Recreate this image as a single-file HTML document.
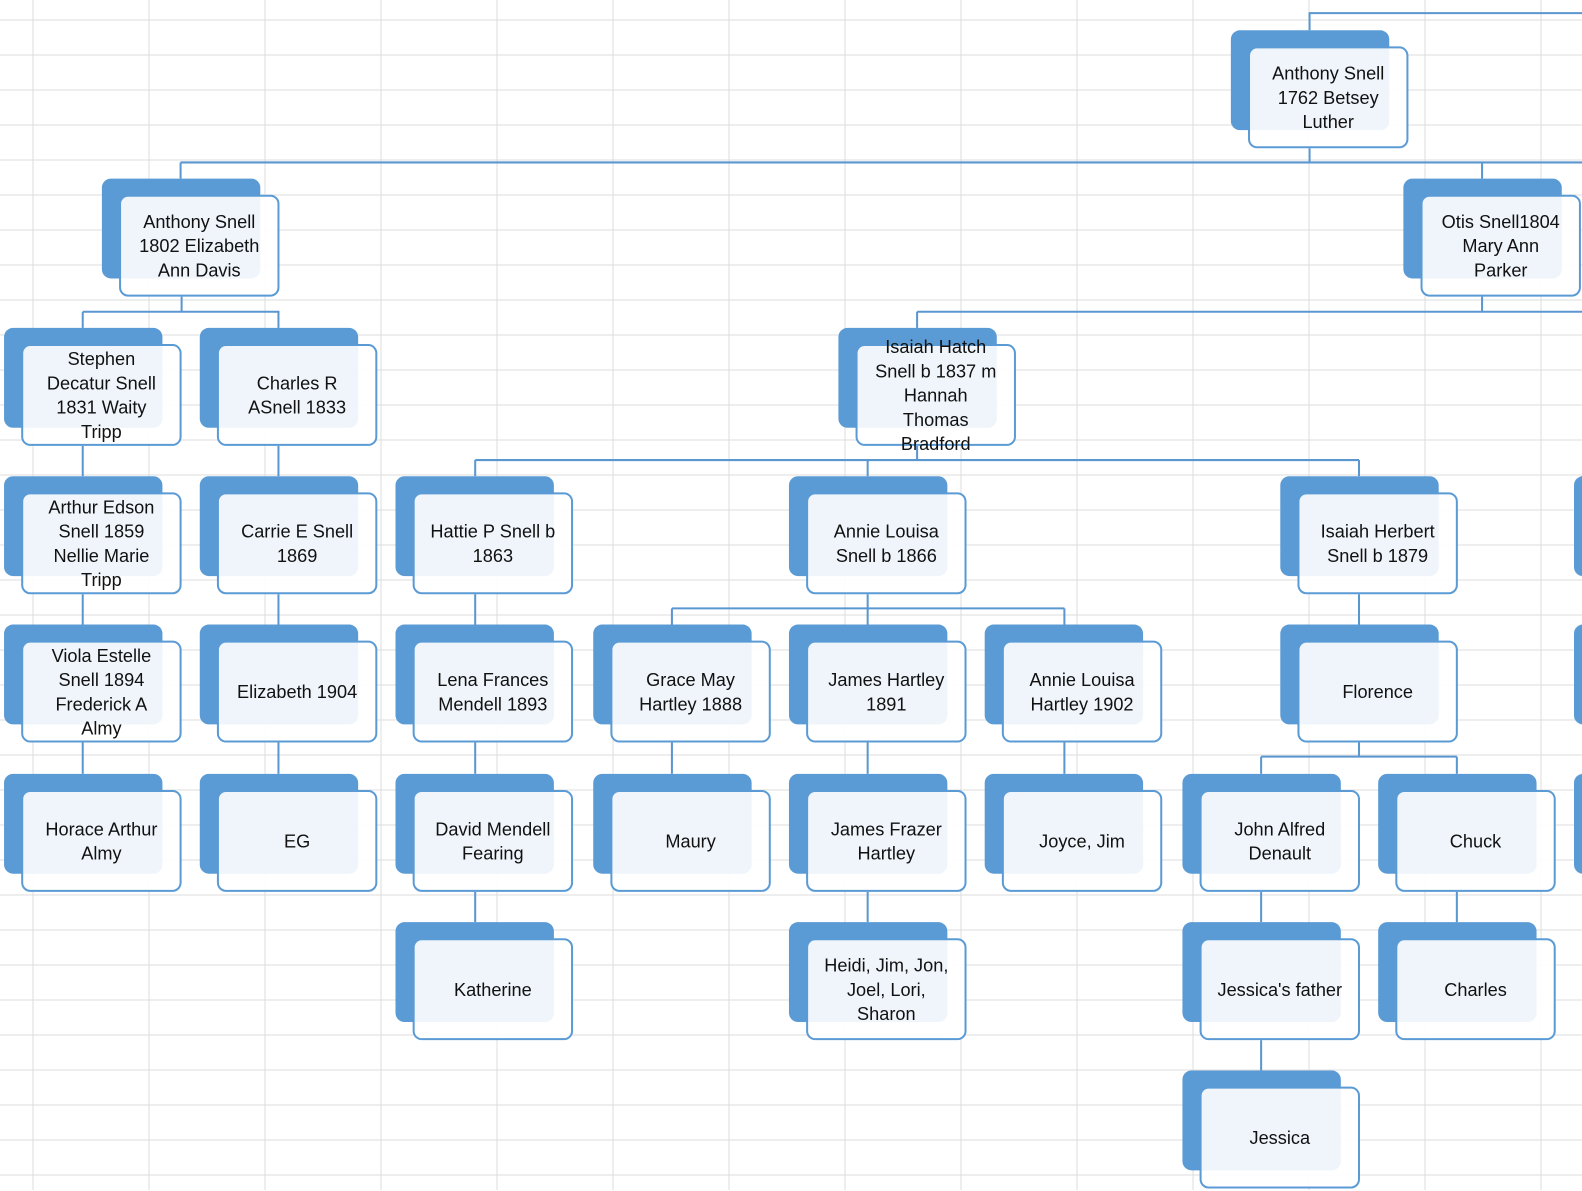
<!DOCTYPE html>
<html><head><meta charset="utf-8"><style>
body{margin:0;width:1582px;height:1190px;overflow:hidden;background:#fff;position:relative;font-family:"Liberation Sans",sans-serif}
svg{position:absolute;left:0;top:0}
#w{position:absolute;left:0;top:0;width:1570px;height:1180px;transform:scale(1.0089);transform-origin:0 0}
.b{position:absolute;width:157px;height:99px;background:#5B9BD5;border-radius:9px}
.f{position:absolute;width:155px;height:97px;border:2px solid #5B9BD5;border-radius:9px;background:rgba(255,255,255,0.9);display:flex;align-items:center;justify-content:center;text-align:center;font-size:18px;line-height:24px;color:#111}
</style></head><body>
<svg width="1582" height="1190">
<g stroke="#dcdcdc" stroke-width="1">
<line x1="33" y1="0" x2="33" y2="1190"/><line x1="149" y1="0" x2="149" y2="1190"/><line x1="265" y1="0" x2="265" y2="1190"/><line x1="381" y1="0" x2="381" y2="1190"/><line x1="497" y1="0" x2="497" y2="1190"/><line x1="613" y1="0" x2="613" y2="1190"/><line x1="729" y1="0" x2="729" y2="1190"/><line x1="845" y1="0" x2="845" y2="1190"/><line x1="961" y1="0" x2="961" y2="1190"/><line x1="1077" y1="0" x2="1077" y2="1190"/><line x1="1193" y1="0" x2="1193" y2="1190"/><line x1="1309" y1="0" x2="1309" y2="1190"/><line x1="1425" y1="0" x2="1425" y2="1190"/><line x1="1541" y1="0" x2="1541" y2="1190"/>
<line x1="0" y1="20" x2="1582" y2="20"/><line x1="0" y1="55" x2="1582" y2="55"/><line x1="0" y1="90" x2="1582" y2="90"/><line x1="0" y1="125" x2="1582" y2="125"/><line x1="0" y1="160" x2="1582" y2="160"/><line x1="0" y1="195" x2="1582" y2="195"/><line x1="0" y1="230" x2="1582" y2="230"/><line x1="0" y1="265" x2="1582" y2="265"/><line x1="0" y1="300" x2="1582" y2="300"/><line x1="0" y1="335" x2="1582" y2="335"/><line x1="0" y1="370" x2="1582" y2="370"/><line x1="0" y1="405" x2="1582" y2="405"/><line x1="0" y1="440" x2="1582" y2="440"/><line x1="0" y1="475" x2="1582" y2="475"/><line x1="0" y1="510" x2="1582" y2="510"/><line x1="0" y1="545" x2="1582" y2="545"/><line x1="0" y1="580" x2="1582" y2="580"/><line x1="0" y1="615" x2="1582" y2="615"/><line x1="0" y1="650" x2="1582" y2="650"/><line x1="0" y1="685" x2="1582" y2="685"/><line x1="0" y1="720" x2="1582" y2="720"/><line x1="0" y1="755" x2="1582" y2="755"/><line x1="0" y1="790" x2="1582" y2="790"/><line x1="0" y1="825" x2="1582" y2="825"/><line x1="0" y1="860" x2="1582" y2="860"/><line x1="0" y1="895" x2="1582" y2="895"/><line x1="0" y1="930" x2="1582" y2="930"/><line x1="0" y1="965" x2="1582" y2="965"/><line x1="0" y1="1000" x2="1582" y2="1000"/><line x1="0" y1="1035" x2="1582" y2="1035"/><line x1="0" y1="1070" x2="1582" y2="1070"/><line x1="0" y1="1105" x2="1582" y2="1105"/><line x1="0" y1="1140" x2="1582" y2="1140"/><line x1="0" y1="1175" x2="1582" y2="1175"/>
</g>
</svg>
<div id="w">
<svg width="1570" height="1180">
<g stroke="#5A96D0" stroke-width="2" fill="none">
<polyline points="1298,30 1298,13 1582,13"/>
<line x1="1298" y1="147" x2="1298" y2="161"/>
<line x1="179" y1="161" x2="1582" y2="161"/>
<line x1="179" y1="161" x2="179" y2="177"/><line x1="1469" y1="161" x2="1469" y2="177"/>
<line x1="180" y1="294" x2="180" y2="309"/><line x1="82" y1="309" x2="277" y2="309"/>
<line x1="82" y1="309" x2="82" y2="325"/><line x1="276" y1="309" x2="276" y2="325"/>
<line x1="1469" y1="294" x2="1469" y2="309"/><line x1="909" y1="309" x2="1582" y2="309"/><line x1="909" y1="309" x2="909" y2="325"/>
<line x1="909" y1="442" x2="909" y2="456"/><line x1="471" y1="456" x2="1347" y2="456"/>
<line x1="471" y1="456" x2="471" y2="472"/><line x1="860" y1="456" x2="860" y2="472"/><line x1="1347" y1="456" x2="1347" y2="472"/>
<line x1="82" y1="442" x2="82" y2="472"/><line x1="276" y1="442" x2="276" y2="472"/>
<line x1="82" y1="589" x2="82" y2="619"/><line x1="276" y1="589" x2="276" y2="619"/><line x1="471" y1="589" x2="471" y2="619"/><line x1="1347" y1="589" x2="1347" y2="619"/>
<line x1="860" y1="589" x2="860" y2="603"/><line x1="666" y1="603" x2="1055" y2="603"/>
<line x1="666" y1="603" x2="666" y2="619"/><line x1="860" y1="603" x2="860" y2="619"/><line x1="1055" y1="603" x2="1055" y2="619"/>
<line x1="82" y1="736" x2="82" y2="767"/><line x1="276" y1="736" x2="276" y2="767"/><line x1="471" y1="736" x2="471" y2="767"/><line x1="666" y1="736" x2="666" y2="767"/><line x1="860" y1="736" x2="860" y2="767"/><line x1="1055" y1="736" x2="1055" y2="767"/>
<line x1="1347" y1="736" x2="1347" y2="750"/><line x1="1250" y1="750" x2="1444" y2="750"/>
<line x1="1250" y1="750" x2="1250" y2="767"/><line x1="1444" y1="750" x2="1444" y2="767"/>
<line x1="471" y1="884" x2="471" y2="914"/><line x1="860" y1="884" x2="860" y2="914"/><line x1="1250" y1="884" x2="1250" y2="914"/><line x1="1444" y1="884" x2="1444" y2="914"/>
<line x1="1250" y1="1031" x2="1250" y2="1061"/>
</g>
</svg>

<div class="b" style="left:1560px;top:472px"></div>
<div class="b" style="left:1560px;top:619px"></div>
<div class="b" style="left:1560px;top:767px"></div>

<div class="b" style="left:1220px;top:30px"></div><div class="f" style="left:1237px;top:46px">Anthony Snell<br>1762 Betsey<br>Luther</div>

<div class="b" style="left:101px;top:177px"></div><div class="f" style="left:118px;top:193px">Anthony Snell<br>1802 Elizabeth<br>Ann Davis</div>
<div class="b" style="left:1391px;top:177px"></div><div class="f" style="left:1408px;top:193px">Otis Snell1804<br>Mary Ann<br>Parker</div>

<div class="b" style="left:4px;top:325px"></div><div class="f" style="left:21px;top:341px">Stephen<br>Decatur Snell<br>1831 Waity<br>Tripp</div>
<div class="b" style="left:198px;top:325px"></div><div class="f" style="left:215px;top:341px">Charles R<br>ASnell 1833</div>
<div class="b" style="left:831px;top:325px"></div><div class="f" style="left:848px;top:341px">Isaiah Hatch<br>Snell b 1837 m<br>Hannah<br>Thomas<br>Bradford</div>

<div class="b" style="left:4px;top:472px"></div><div class="f" style="left:21px;top:488px">Arthur Edson<br>Snell 1859<br>Nellie Marie<br>Tripp</div>
<div class="b" style="left:198px;top:472px"></div><div class="f" style="left:215px;top:488px">Carrie E Snell<br>1869</div>
<div class="b" style="left:392px;top:472px"></div><div class="f" style="left:409px;top:488px">Hattie P Snell b<br>1863</div>
<div class="b" style="left:782px;top:472px"></div><div class="f" style="left:799px;top:488px">Annie Louisa<br>Snell b 1866</div>
<div class="b" style="left:1269px;top:472px"></div><div class="f" style="left:1286px;top:488px">Isaiah Herbert<br>Snell b 1879</div>

<div class="b" style="left:4px;top:619px"></div><div class="f" style="left:21px;top:635px">Viola Estelle<br>Snell 1894<br>Frederick A<br>Almy</div>
<div class="b" style="left:198px;top:619px"></div><div class="f" style="left:215px;top:635px">Elizabeth 1904</div>
<div class="b" style="left:392px;top:619px"></div><div class="f" style="left:409px;top:635px">Lena Frances<br>Mendell 1893</div>
<div class="b" style="left:588px;top:619px"></div><div class="f" style="left:605px;top:635px">Grace May<br>Hartley 1888</div>
<div class="b" style="left:782px;top:619px"></div><div class="f" style="left:799px;top:635px">James Hartley<br>1891</div>
<div class="b" style="left:976px;top:619px"></div><div class="f" style="left:993px;top:635px">Annie Louisa<br>Hartley 1902</div>
<div class="b" style="left:1269px;top:619px"></div><div class="f" style="left:1286px;top:635px">Florence</div>

<div class="b" style="left:4px;top:767px"></div><div class="f" style="left:21px;top:783px">Horace Arthur<br>Almy</div>
<div class="b" style="left:198px;top:767px"></div><div class="f" style="left:215px;top:783px">EG</div>
<div class="b" style="left:392px;top:767px"></div><div class="f" style="left:409px;top:783px">David Mendell<br>Fearing</div>
<div class="b" style="left:588px;top:767px"></div><div class="f" style="left:605px;top:783px">Maury</div>
<div class="b" style="left:782px;top:767px"></div><div class="f" style="left:799px;top:783px">James Frazer<br>Hartley</div>
<div class="b" style="left:976px;top:767px"></div><div class="f" style="left:993px;top:783px">Joyce, Jim</div>
<div class="b" style="left:1172px;top:767px"></div><div class="f" style="left:1189px;top:783px">John Alfred<br>Denault</div>
<div class="b" style="left:1366px;top:767px"></div><div class="f" style="left:1383px;top:783px">Chuck</div>

<div class="b" style="left:392px;top:914px"></div><div class="f" style="left:409px;top:930px">Katherine</div>
<div class="b" style="left:782px;top:914px"></div><div class="f" style="left:799px;top:930px">Heidi, Jim, Jon,<br>Joel, Lori,<br>Sharon</div>
<div class="b" style="left:1172px;top:914px"></div><div class="f" style="left:1189px;top:930px">Jessica's father</div>
<div class="b" style="left:1366px;top:914px"></div><div class="f" style="left:1383px;top:930px">Charles</div>

<div class="b" style="left:1172px;top:1061px"></div><div class="f" style="left:1189px;top:1077px">Jessica</div>
</div>
</body></html>
